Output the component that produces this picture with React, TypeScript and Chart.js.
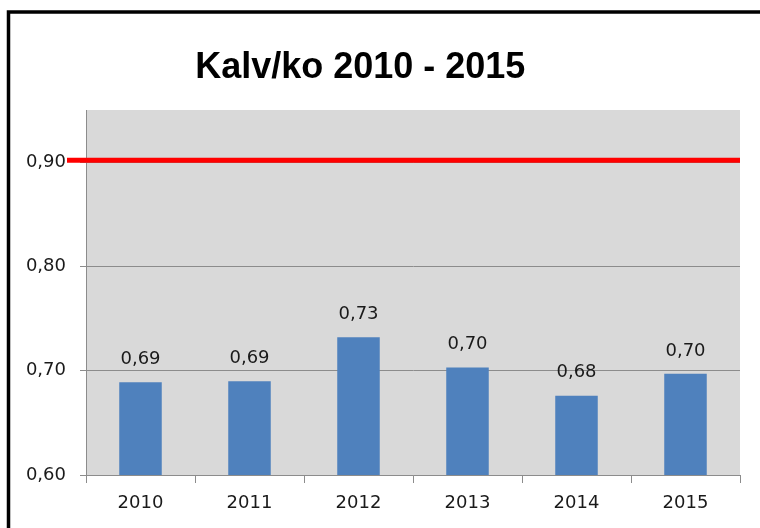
import React, { useEffect, useRef } from "react";
import { Chart, registerables } from "chart.js";

Chart.register(...registerables);

const TITLE = "Kalv/ko 2010 - 2015";
const YEARS = ["2010", "2011", "2012", "2013", "2014", "2015"];
const KALV_PER_KO = [0.689, 0.69, 0.732, 0.703, 0.676, 0.697];
const TARGET = 0.9;
const Y_MIN = 0.6;
const Y_MAX = 0.95;
const Y_STEP = 0.1;

const fmt = (v: number) => v.toFixed(2).replace(".", ",");
const FONT = "DejaVu Sans";
const TEXT = "#1a1a1a";
const GRID = "#8c8c8c";

const decorPlugin = {
  id: "decor",
  beforeDraw(chart: any) {
    const { ctx, chartArea } = chart;
    ctx.save();
    ctx.fillStyle = "#ffffff";
    ctx.fillRect(0, 0, chart.width, chart.height);
    // frame (top and left edges visible)
    ctx.strokeStyle = "#000000";
    ctx.lineWidth = 3.5;
    ctx.beginPath();
    ctx.moveTo(8.5, chart.height);
    ctx.lineTo(8.5, 12);
    ctx.lineTo(chart.width, 12);
    ctx.stroke();
    // plot background
    ctx.fillStyle = "#d9d9d9";
    ctx.fillRect(chartArea.left, chartArea.top, chartArea.right - chartArea.left, chartArea.bottom - chartArea.top);
    // title
    ctx.fillStyle = "#000000";
    ctx.font = "bold 36px 'Liberation Sans'";
    ctx.textAlign = "center";
    ctx.textBaseline = "alphabetic";
    ctx.fillText(TITLE, chart.width * 0.474, 78);
    ctx.restore();
  },
  afterDatasetsDraw(chart: any) {
    const { ctx, chartArea } = chart;
    const meta = chart.getDatasetMeta(0);
    ctx.save();
    ctx.fillStyle = TEXT;
    ctx.font = `18px '${FONT}'`;
    ctx.textAlign = "center";
    ctx.textBaseline = "middle";
    meta.data.forEach((bar: any, i: number) => {
      ctx.fillText(fmt(KALV_PER_KO[i]), bar.x, bar.y - 23);
    });
    // target line
    const y = chart.scales.y.getPixelForValue(TARGET) - 2;
    ctx.strokeStyle = "#ff0000";
    ctx.lineWidth = 5;
    ctx.beginPath();
    ctx.moveTo(chartArea.left - 19, y);
    ctx.lineTo(chartArea.right, y);
    ctx.stroke();
    ctx.restore();
  },
};

export default function App() {
  const ref = useRef<HTMLCanvasElement>(null);
  useEffect(() => {
    if (!ref.current) return;
    const chart = new Chart(ref.current, {
      type: "bar",
      data: {
        labels: YEARS,
        datasets: [
          {
            label: "Kalv/ko",
            data: KALV_PER_KO,
            backgroundColor: "#4f81bd",
            borderWidth: 0,
            barPercentage: 0.39,
            categoryPercentage: 1,
          },
        ],
      },
      options: {
        animation: false,
        responsive: false,
        maintainAspectRatio: false,
        layout: { padding: { top: 110, right: 20, left: 0, bottom: 0 } },
        plugins: {
          legend: { display: false },
          title: { display: false },
          tooltip: { enabled: false },
        },
        scales: {
          x: {
            afterFit: (s: any) => {
              s.height = 53;
            },
            grid: {
              offset: true,
              drawOnChartArea: false,
              tickLength: 8,
              color: GRID,
            },
            border: { color: GRID },
            ticks: {
              color: TEXT,
              font: { family: FONT, size: 18 },
              padding: 10,
            },
          },
          y: {
            min: Y_MIN,
            max: Y_MAX,
            afterFit: (s: any) => {
              s.width = 86;
            },
            grid: { color: GRID, tickLength: 6 },
            border: { color: GRID },
            ticks: {
              stepSize: Y_STEP,
              includeBounds: false,
              color: TEXT,
              font: { family: FONT, size: 18 },
              padding: 14,
              callback: (v: any) => fmt(Number(v)),
            },
          },
        },
      },
      plugins: [decorPlugin],
    });
    return () => chart.destroy();
  }, []);
  return (
    <div style={{ position: "absolute", left: 0, top: 0, width: 760, height: 528, overflow: "hidden" }}>
      <canvas ref={ref} width={760} height={528} style={{ display: "block" }} />
    </div>
  );
}
